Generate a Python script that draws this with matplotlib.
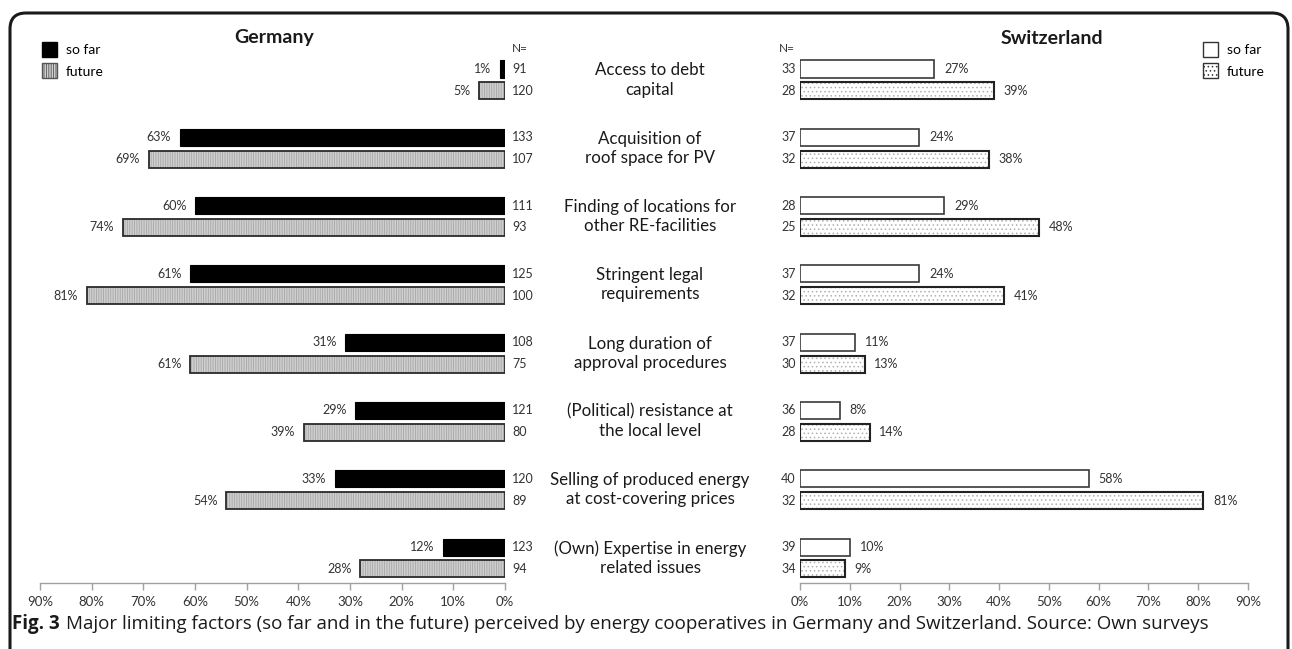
import numpy as np
import matplotlib
matplotlib.use("Agg")
from matplotlib import pyplot as plt
from matplotlib import transforms
from matplotlib.patches import FancyBboxPatch, Patch
from matplotlib.ticker import FuncFormatter

plt.rcParams['font.family'] = ['Lato', 'DejaVu Sans']
plt.rcParams['hatch.linewidth'] = 0.6

categories = [
    "Access to debt\ncapital",
    "Acquisition of\nroof space for PV",
    "Finding of locations for\nother RE-facilities",
    "Stringent legal\nrequirements",
    "Long duration of\napproval procedures",
    "(Political) resistance at\nthe local level",
    "Selling of produced energy\nat cost-covering prices",
    "(Own) Expertise in energy\nrelated issues",
]

de_sofar = [1, 63, 60, 61, 31, 29, 33, 12]
de_sofar_n = [91, 133, 111, 125, 108, 121, 120, 123]
de_future = [5, 69, 74, 81, 61, 39, 54, 28]
de_future_n = [120, 107, 93, 100, 75, 80, 89, 94]

ch_sofar = [27, 24, 29, 24, 11, 8, 58, 10]
ch_sofar_n = [33, 37, 28, 37, 37, 36, 40, 39]
ch_future = [39, 38, 48, 41, 13, 14, 81, 9]
ch_future_n = [28, 32, 25, 32, 30, 28, 32, 34]

ticks = [0, 10, 20, 30, 40, 50, 60, 70, 80, 90]

W, H = 1292, 649
fig = plt.figure(figsize=(W / 100, H / 100), dpi=100)

# rounded frame, open at the bottom
bg = fig.add_axes([0, 0, 1, 1], zorder=-1)
bg.set_xlim(0, W)
bg.set_ylim(H, 0)
bg.axis('off')
bg.add_patch(FancyBboxPatch((10, 13), W - 14, H + 40,
                            boxstyle="round,pad=0,rounding_size=16",
                            fill=False, lw=2.2, ec='#1a1a1a'))

gap = 0.32
bh = 0.25
y_top, y_bot = 30, 583
row = 68.3
ylim = ((y_bot - 69) / row, -(69 - y_top) / row)
ax_bottom = 1 - y_bot / H
ax_height = (y_bot - y_top) / H

ax_de = fig.add_axes([40 / W, ax_bottom, 465 / W, ax_height])
ax_ch = fig.add_axes([800 / W, ax_bottom, 448 / W, ax_height])

y = np.arange(len(categories))
yf = y + gap

# Germany
ax_de.barh(y, de_sofar, height=bh, color='black', edgecolor='black', lw=0.8)
ax_de.barh(yf, de_future, height=bh, color='#cfcfcf', edgecolor='#a6a6a6',
           hatch='|||||||', lw=0)
ax_de.barh(yf, de_future, height=bh, fill=False, edgecolor='#2a2a2a', lw=1.3)
ax_de.set_xlim(90, 0)

# Switzerland
ax_ch.barh(y, ch_sofar, height=bh, color='white', edgecolor='#3a3a3a', lw=1.2)
ax_ch.barh(yf, ch_future, height=bh, color='white', edgecolor='#b0b0b0',
           hatch='....', lw=0)
ax_ch.barh(yf, ch_future, height=bh, fill=False, edgecolor='#222222', lw=1.5)
ax_ch.set_xlim(0, 90)

for ax in (ax_de, ax_ch):
    ax.set_ylim(*ylim)
    for s in ('top', 'left', 'right'):
        ax.spines[s].set_visible(False)
    ax.spines['bottom'].set_color('#a0a0a0')
    ax.spines['bottom'].set_linewidth(1.0)
    ax.set_yticks([])
    ax.set_xticks(ticks)
    ax.xaxis.set_major_formatter(FuncFormatter(lambda v, p: f"{int(v)}%"))
    ax.tick_params(axis='x', direction='out', length=5, width=1.0,
                   color='#a0a0a0', labelsize=9.5, labelcolor='#333333', pad=4)
    ax.patch.set_alpha(0)

lab_kw = dict(textcoords='offset points', va='center', fontsize=9, color='#333333')
for i in range(len(categories)):
    ax_de.annotate(f"{de_sofar[i]}%", (de_sofar[i], y[i]), xytext=(-6, 0), ha='right', **lab_kw)
    ax_de.annotate(f"{de_future[i]}%", (de_future[i], yf[i]), xytext=(-6, 0), ha='right', **lab_kw)
    ax_de.annotate(f"{de_sofar_n[i]}", (0, y[i]), xytext=(5, 0), ha='left', **lab_kw)
    ax_de.annotate(f"{de_future_n[i]}", (0, yf[i]), xytext=(5, 0), ha='left', **lab_kw)
    ax_ch.annotate(f"{ch_sofar[i]}%", (ch_sofar[i], y[i]), xytext=(7, 0), ha='left', **lab_kw)
    ax_ch.annotate(f"{ch_future[i]}%", (ch_future[i], yf[i]), xytext=(7, 0), ha='left', **lab_kw)
    ax_ch.annotate(f"{ch_sofar_n[i]}", (0, y[i]), xytext=(-3, 0), ha='right', **lab_kw)
    ax_ch.annotate(f"{ch_future_n[i]}", (0, yf[i]), xytext=(-3, 0), ha='right', **lab_kw)

# category labels in the middle
tr = transforms.blended_transform_factory(fig.transFigure, ax_de.transData)
for i, cat in enumerate(categories):
    fig.text(650 / W, y[i] + gap / 2, cat, transform=tr, ha='center', va='center',
             fontsize=12.2, color='#1a1a1a', linespacing=1.25)

# titles and N=
fig.text(274 / W, 1 - 38 / H, "Germany", ha='center', va='center',
         fontsize=14, fontweight='bold', color='#1a1a1a')
fig.text(1052 / W, 1 - 38 / H, "Switzerland", ha='center', va='center',
         fontsize=14, fontweight='bold', color='#1a1a1a')
fig.text(512 / W, 1 - 49 / H, "N=", ha='left', va='center', fontsize=8.5, color='#333333')
fig.text(795 / W, 1 - 49 / H, "N=", ha='right', va='center', fontsize=8.5, color='#333333')

# legends
de_handles = [Patch(facecolor='black', edgecolor='black', label='so far'),
              Patch(facecolor='#cfcfcf', edgecolor='#555555', hatch='|||||||', label='future')]
ch_handles = [Patch(facecolor='white', edgecolor='#333333', label='so far'),
              Patch(facecolor='white', edgecolor='#333333', hatch='....', label='future')]
leg_kw = dict(loc='upper left', frameon=False, fontsize=10, handlelength=1.1,
              handleheight=1.3, handletextpad=0.6, labelspacing=0.45, borderpad=0)
fig.legend(handles=de_handles, bbox_to_anchor=(35 / W, 1 - 35 / H), **leg_kw)
fig.legend(handles=ch_handles, bbox_to_anchor=(1196 / W, 1 - 35 / H), **leg_kw)

# caption
cap_font = ['Open Sans', 'DejaVu Sans']
cap_y = 1 - 624 / H
cap = fig.text(12 / W, cap_y, "Fig. 3", ha='left', va='center',
               fontsize=13.5, fontweight='bold', color='#1a1a1a', family=cap_font)
fig.canvas.draw()
bb = cap.get_window_extent()
fig.text((bb.x1 + 6) / W, cap_y,
         "Major limiting factors (so far and in the future) perceived by energy cooperatives "
         "in Germany and Switzerland. Source: Own surveys",
         ha='left', va='center', fontsize=13.5, color='#1a1a1a', family=cap_font)

fig.savefig("out.png", dpi=100)
